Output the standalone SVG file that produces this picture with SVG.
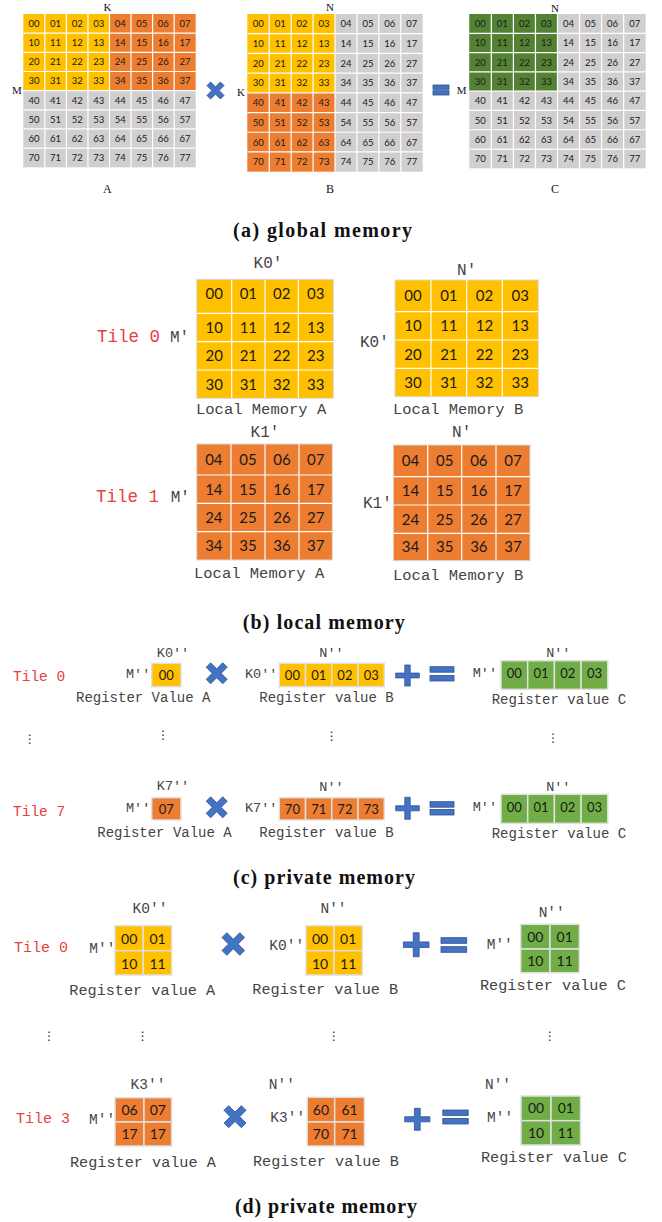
<svg xmlns="http://www.w3.org/2000/svg" xmlns:xlink="http://www.w3.org/1999/xlink" width="662" height="1222" viewBox="0 0 662 1222">
<defs>
<style>
.y{fill:#FFC000}.o{fill:#ED7D31}.g{fill:#D0CECE}.dg{fill:#548235}.gr{fill:#70AD47}
.cell{stroke:#E0E0E0;stroke-width:1.5}
.gl{stroke:#FFFFFF;stroke-width:1.2;fill:none}
.gb{stroke:#DADADA;stroke-width:1;fill:none}
.n{font-family:Lato,"Open Sans","Liberation Sans",sans-serif;fill:#1a1a1a;text-anchor:middle}
.na{font-size:9.5px}.nb{font-size:15px}.nc{font-size:13px}.nd{font-size:14px}
.t{font-family:"Liberation Serif","Times New Roman",serif;fill:#111}
.m{font-family:"Liberation Mono","Courier New",monospace;fill:#444}
.red{fill:#E8413C}
.mid{text-anchor:middle}
.cap{font-family:"Liberation Serif","Times New Roman",serif;font-weight:bold;font-size:20px;fill:#111;text-anchor:middle}
.op{fill:#4472C4;stroke:#2F528F;stroke-width:0.8}
.dots{font-family:"DejaVu Sans",sans-serif;font-size:12px;fill:#222;text-anchor:middle}
</style>
<path id="mul" d="M0.516,-0.898 L0.898,-0.516 L0.382,0 L0.898,0.516 L0.516,0.898 L0,0.382 L-0.516,0.898 L-0.898,0.516 L-0.382,0 L-0.898,-0.516 L-0.516,-0.898 L0,-0.382 Z" vector-effect="non-scaling-stroke"/>
<path id="plus" d="M-0.23,-1 H0.23 V-0.23 H1 V0.23 H0.23 V1 H-0.23 V0.23 H-1 V-0.23 H-0.23 Z" vector-effect="non-scaling-stroke"/>
</defs>
<rect width="662" height="1222" fill="#FFFFFF"/>

<!-- ============ (a) global memory ============ -->
<g id="globalA" transform="translate(23.3,14)">
<rect class="g" x="0" y="76.64" width="172.4" height="76.64"/>
<rect class="y" x="0" y="0" width="86.2" height="76.64"/>
<rect class="o" x="86.2" y="0" width="86.2" height="76.64"/>
<path class="gl" d="M21.55,0V153.28M43.1,0V153.28M64.65,0V153.28M86.2,0V153.28M107.75,0V153.28M129.3,0V153.28M150.85,0V153.28M0,19.16H172.4M0,38.32H172.4M0,57.48H172.4M0,76.64H172.4M0,95.8H172.4M0,114.96H172.4M0,134.12H172.4"/>
<g class="n na">
<text y="12.98"><tspan x="10.78">00</tspan><tspan x="32.33">01</tspan><tspan x="53.88">02</tspan><tspan x="75.43">03</tspan><tspan x="96.98">04</tspan><tspan x="118.53">05</tspan><tspan x="140.08">06</tspan><tspan x="161.63">07</tspan></text>
<text y="32.14"><tspan x="10.78">10</tspan><tspan x="32.33">11</tspan><tspan x="53.88">12</tspan><tspan x="75.43">13</tspan><tspan x="96.98">14</tspan><tspan x="118.53">15</tspan><tspan x="140.08">16</tspan><tspan x="161.63">17</tspan></text>
<text y="51.3"><tspan x="10.78">20</tspan><tspan x="32.33">21</tspan><tspan x="53.88">22</tspan><tspan x="75.43">23</tspan><tspan x="96.98">24</tspan><tspan x="118.53">25</tspan><tspan x="140.08">26</tspan><tspan x="161.63">27</tspan></text>
<text y="70.46"><tspan x="10.78">30</tspan><tspan x="32.33">31</tspan><tspan x="53.88">32</tspan><tspan x="75.43">33</tspan><tspan x="96.98">34</tspan><tspan x="118.53">35</tspan><tspan x="140.08">36</tspan><tspan x="161.63">37</tspan></text>
<text y="89.62"><tspan x="10.78">40</tspan><tspan x="32.33">41</tspan><tspan x="53.88">42</tspan><tspan x="75.43">43</tspan><tspan x="96.98">44</tspan><tspan x="118.53">45</tspan><tspan x="140.08">46</tspan><tspan x="161.63">47</tspan></text>
<text y="108.78"><tspan x="10.78">50</tspan><tspan x="32.33">51</tspan><tspan x="53.88">52</tspan><tspan x="75.43">53</tspan><tspan x="96.98">54</tspan><tspan x="118.53">55</tspan><tspan x="140.08">56</tspan><tspan x="161.63">57</tspan></text>
<text y="127.94"><tspan x="10.78">60</tspan><tspan x="32.33">61</tspan><tspan x="53.88">62</tspan><tspan x="75.43">63</tspan><tspan x="96.98">64</tspan><tspan x="118.53">65</tspan><tspan x="140.08">66</tspan><tspan x="161.63">67</tspan></text>
<text y="147.1"><tspan x="10.78">70</tspan><tspan x="32.33">71</tspan><tspan x="53.88">72</tspan><tspan x="75.43">73</tspan><tspan x="96.98">74</tspan><tspan x="118.53">75</tspan><tspan x="140.08">76</tspan><tspan x="161.63">77</tspan></text>
</g>
</g>
<g id="globalA-labels" class="t">
<text x="107.5" y="10.5" font-size="11" text-anchor="middle">K</text>
<text x="17" y="94" font-size="11" text-anchor="middle">M</text>
<text x="107.3" y="193.3" font-size="12" text-anchor="middle">A</text>
</g>

<g id="globalB" transform="translate(247.3,14)">
<rect class="y" x="0" y="0" width="87.72" height="78.84"/>
<rect class="o" x="0" y="78.84" width="87.72" height="78.84"/>
<rect class="g" x="87.72" y="0" width="87.68" height="157.68"/>
<path class="gl" d="M21.93,0V157.68M43.86,0V157.68M65.79,0V157.68M87.72,0V157.68M109.65,0V157.68M131.58,0V157.68M153.51,0V157.68M0,19.71H175.4M0,39.42H175.4M0,59.13H175.4M0,78.84H175.4M0,98.55H175.4M0,118.26H175.4M0,137.97H175.4"/>
<g class="n na">
<text y="13.26"><tspan x="10.97">00</tspan><tspan x="32.9">01</tspan><tspan x="54.83">02</tspan><tspan x="76.76">03</tspan><tspan x="98.69">04</tspan><tspan x="120.62">05</tspan><tspan x="142.55">06</tspan><tspan x="164.48">07</tspan></text>
<text y="32.97"><tspan x="10.97">10</tspan><tspan x="32.9">11</tspan><tspan x="54.83">12</tspan><tspan x="76.76">13</tspan><tspan x="98.69">14</tspan><tspan x="120.62">15</tspan><tspan x="142.55">16</tspan><tspan x="164.48">17</tspan></text>
<text y="52.68"><tspan x="10.97">20</tspan><tspan x="32.9">21</tspan><tspan x="54.83">22</tspan><tspan x="76.76">23</tspan><tspan x="98.69">24</tspan><tspan x="120.62">25</tspan><tspan x="142.55">26</tspan><tspan x="164.48">27</tspan></text>
<text y="72.39"><tspan x="10.97">30</tspan><tspan x="32.9">31</tspan><tspan x="54.83">32</tspan><tspan x="76.76">33</tspan><tspan x="98.69">34</tspan><tspan x="120.62">35</tspan><tspan x="142.55">36</tspan><tspan x="164.48">37</tspan></text>
<text y="92.1"><tspan x="10.97">40</tspan><tspan x="32.9">41</tspan><tspan x="54.83">42</tspan><tspan x="76.76">43</tspan><tspan x="98.69">44</tspan><tspan x="120.62">45</tspan><tspan x="142.55">46</tspan><tspan x="164.48">47</tspan></text>
<text y="111.81"><tspan x="10.97">50</tspan><tspan x="32.9">51</tspan><tspan x="54.83">52</tspan><tspan x="76.76">53</tspan><tspan x="98.69">54</tspan><tspan x="120.62">55</tspan><tspan x="142.55">56</tspan><tspan x="164.48">57</tspan></text>
<text y="131.52"><tspan x="10.97">60</tspan><tspan x="32.9">61</tspan><tspan x="54.83">62</tspan><tspan x="76.76">63</tspan><tspan x="98.69">64</tspan><tspan x="120.62">65</tspan><tspan x="142.55">66</tspan><tspan x="164.48">67</tspan></text>
<text y="151.23"><tspan x="10.97">70</tspan><tspan x="32.9">71</tspan><tspan x="54.83">72</tspan><tspan x="76.76">73</tspan><tspan x="98.69">74</tspan><tspan x="120.62">75</tspan><tspan x="142.55">76</tspan><tspan x="164.48">77</tspan></text>
</g>
</g>
<g id="globalB-labels" class="t">
<text x="330" y="10.5" font-size="11" text-anchor="middle">N</text>
<text x="241" y="96" font-size="11" text-anchor="middle">K</text>
<text x="330" y="193.3" font-size="12" text-anchor="middle">B</text>
</g>

<g id="globalC" transform="translate(469.3,14)">
<rect class="g" x="0" y="0" width="176.4" height="154.32"/>
<rect class="dg" x="0" y="0" width="88.2" height="77.16"/>
<path class="gl" d="M22.05,0V154.32M44.1,0V154.32M66.15,0V154.32M88.2,0V154.32M110.25,0V154.32M132.3,0V154.32M154.35,0V154.32M0,19.29H176.4M0,38.58H176.4M0,57.87H176.4M0,77.16H176.4M0,96.45H176.4M0,115.74H176.4M0,135.03H176.4"/>
<g class="n na">
<text y="13.05"><tspan x="11.03">00</tspan><tspan x="33.08">01</tspan><tspan x="55.13">02</tspan><tspan x="77.18">03</tspan><tspan x="99.23">04</tspan><tspan x="121.28">05</tspan><tspan x="143.33">06</tspan><tspan x="165.38">07</tspan></text>
<text y="32.34"><tspan x="11.03">10</tspan><tspan x="33.08">11</tspan><tspan x="55.13">12</tspan><tspan x="77.18">13</tspan><tspan x="99.23">14</tspan><tspan x="121.28">15</tspan><tspan x="143.33">16</tspan><tspan x="165.38">17</tspan></text>
<text y="51.63"><tspan x="11.03">20</tspan><tspan x="33.08">21</tspan><tspan x="55.13">22</tspan><tspan x="77.18">23</tspan><tspan x="99.23">24</tspan><tspan x="121.28">25</tspan><tspan x="143.33">26</tspan><tspan x="165.38">27</tspan></text>
<text y="70.92"><tspan x="11.03">30</tspan><tspan x="33.08">31</tspan><tspan x="55.13">32</tspan><tspan x="77.18">33</tspan><tspan x="99.23">34</tspan><tspan x="121.28">35</tspan><tspan x="143.33">36</tspan><tspan x="165.38">37</tspan></text>
<text y="90.21"><tspan x="11.03">40</tspan><tspan x="33.08">41</tspan><tspan x="55.13">42</tspan><tspan x="77.18">43</tspan><tspan x="99.23">44</tspan><tspan x="121.28">45</tspan><tspan x="143.33">46</tspan><tspan x="165.38">47</tspan></text>
<text y="109.5"><tspan x="11.03">50</tspan><tspan x="33.08">51</tspan><tspan x="55.13">52</tspan><tspan x="77.18">53</tspan><tspan x="99.23">54</tspan><tspan x="121.28">55</tspan><tspan x="143.33">56</tspan><tspan x="165.38">57</tspan></text>
<text y="128.79"><tspan x="11.03">60</tspan><tspan x="33.08">61</tspan><tspan x="55.13">62</tspan><tspan x="77.18">63</tspan><tspan x="99.23">64</tspan><tspan x="121.28">65</tspan><tspan x="143.33">66</tspan><tspan x="165.38">67</tspan></text>
<text y="148.08"><tspan x="11.03">70</tspan><tspan x="33.08">71</tspan><tspan x="55.13">72</tspan><tspan x="77.18">73</tspan><tspan x="99.23">74</tspan><tspan x="121.28">75</tspan><tspan x="143.33">76</tspan><tspan x="165.38">77</tspan></text>
</g>
</g>
<g id="globalC-labels" class="t">
<text x="555" y="12" font-size="11" text-anchor="middle">N</text>
<text x="461.7" y="94" font-size="11" text-anchor="middle">M</text>
<text x="555" y="193.3" font-size="12" text-anchor="middle">C</text>
</g>

<g id="ops-a">
<use xlink:href="#mul" class="op" transform="translate(215.5,90.5) scale(9.5)"/>
<rect class="op" x="433" y="85" width="16" height="4.3"/>
<rect class="op" x="433" y="90.7" width="16" height="4.3"/>
</g>
<text id="cap-a" class="cap" x="322.5" y="237" textLength="179">(a) global memory</text>

<!-- ============ (b) local memory ============ -->
<g id="localA-t0">
<rect class="y" x="196.7" y="279.3" width="136.6" height="119"/>
<path class="gl" stroke-width="1.5" d="M231.7,279.3V398.3M265,279.3V398.3M298.3,279.3V398.3M196.7,313.3H333.3M196.7,341.7H333.3M196.7,370H333.3"/>
<rect class="gb" x="196.7" y="279.3" width="136.6" height="119"/>
<g class="n nb">
<text y="299.2"><tspan x="214.2">00</tspan><tspan x="248.35">01</tspan><tspan x="281.65">02</tspan><tspan x="315.8">03</tspan></text>
<text y="332.9"><tspan x="214.2">10</tspan><tspan x="248.35">11</tspan><tspan x="281.65">12</tspan><tspan x="315.8">13</tspan></text>
<text y="361.2"><tspan x="214.2">20</tspan><tspan x="248.35">21</tspan><tspan x="281.65">22</tspan><tspan x="315.8">23</tspan></text>
<text y="389.6"><tspan x="214.2">30</tspan><tspan x="248.35">31</tspan><tspan x="281.65">32</tspan><tspan x="315.8">33</tspan></text>
</g>
</g>
<g id="localB-t0">
<rect class="y" x="395" y="280" width="143.3" height="116.7"/>
<path class="gl" stroke-width="1.5" d="M431,280V396.7M466.7,280V396.7M502.3,280V396.7M395,311.7H538.3M395,340H538.3M395,368.3H538.3"/>
<rect class="gb" x="395" y="280" width="143.3" height="116.7"/>
<g class="n nb">
<text y="301.2"><tspan x="413">00</tspan><tspan x="448.85">01</tspan><tspan x="484.5">02</tspan><tspan x="520.3">03</tspan></text>
<text y="331.2"><tspan x="413">10</tspan><tspan x="448.85">11</tspan><tspan x="484.5">12</tspan><tspan x="520.3">13</tspan></text>
<text y="359.6"><tspan x="413">20</tspan><tspan x="448.85">21</tspan><tspan x="484.5">22</tspan><tspan x="520.3">23</tspan></text>
<text y="387.9"><tspan x="413">30</tspan><tspan x="448.85">31</tspan><tspan x="484.5">32</tspan><tspan x="520.3">33</tspan></text>
</g>
</g>
<g id="localA-t1">
<rect class="o" x="196.7" y="444" width="135.6" height="116"/>
<path class="gl" stroke-width="1.5" d="M231,444V560M265,444V560M299,444V560M196.7,475H332.3M196.7,503.3H332.3M196.7,531.7H332.3"/>
<rect class="gb" x="196.7" y="444" width="135.6" height="116"/>
<g class="n nb">
<text y="464.7"><tspan x="213.85">04</tspan><tspan x="248">05</tspan><tspan x="282">06</tspan><tspan x="315.65">07</tspan></text>
<text y="494.6"><tspan x="213.85">14</tspan><tspan x="248">15</tspan><tspan x="282">16</tspan><tspan x="315.65">17</tspan></text>
<text y="522.9"><tspan x="213.85">24</tspan><tspan x="248">25</tspan><tspan x="282">26</tspan><tspan x="315.65">27</tspan></text>
<text y="551.25"><tspan x="213.85">34</tspan><tspan x="248">35</tspan><tspan x="282">36</tspan><tspan x="315.65">37</tspan></text>
</g>
</g>
<g id="localB-t1">
<rect class="o" x="393.3" y="445" width="136.7" height="115.7"/>
<path class="gl" stroke-width="1.5" d="M427.7,445V560.7M461.7,445V560.7M496,445V560.7M393.3,476.7H530M393.3,505H530M393.3,533.3H530"/>
<rect class="gb" x="393.3" y="445" width="136.7" height="115.7"/>
<g class="n nb">
<text y="466.25"><tspan x="410.5">04</tspan><tspan x="444.7">05</tspan><tspan x="478.85">06</tspan><tspan x="513">07</tspan></text>
<text y="496.25"><tspan x="410.5">14</tspan><tspan x="444.7">15</tspan><tspan x="478.85">16</tspan><tspan x="513">17</tspan></text>
<text y="524.55"><tspan x="410.5">24</tspan><tspan x="444.7">25</tspan><tspan x="478.85">26</tspan><tspan x="513">27</tspan></text>
<text y="552.4"><tspan x="410.5">34</tspan><tspan x="444.7">35</tspan><tspan x="478.85">36</tspan><tspan x="513">37</tspan></text>
</g>
</g>
<g id="local-labels" class="m">
<text x="268" y="268" font-size="16" class="m mid">K0′</text>
<text x="466.7" y="275" font-size="16" class="m mid">N′</text>
<text x="97" y="341.7" font-size="17.5" class="m red">Tile 0</text>
<text x="170" y="341.7" font-size="16">M′</text>
<text x="360" y="347.3" font-size="16">K0′</text>
<text x="196" y="414" font-size="15.5">Local Memory A</text>
<text x="393" y="414" font-size="15.5">Local Memory B</text>
<text x="265" y="437" font-size="16" class="m mid">K1′</text>
<text x="461.7" y="437" font-size="16" class="m mid">N′</text>
<text x="96" y="502" font-size="17.5" class="m red">Tile 1</text>
<text x="170.7" y="502" font-size="16">M′</text>
<text x="363" y="508" font-size="16">K1′</text>
<text x="194" y="578" font-size="15.5">Local Memory A</text>
<text x="393" y="580" font-size="15.5">Local Memory B</text>
</g>
<text id="cap-b" class="cap" x="323.8" y="629" textLength="162">(b) local memory</text>

<!-- ============ (c) private memory ============ -->
<g id="regA-c0">
<rect class="y cell" x="151.7" y="663.3" width="29.3" height="23.4"/>
<text class="n nc" x="166.35" y="679.7">00</text>
</g>
<g id="regB-c0">
<rect class="y cell" x="279.3" y="663.3" width="26.25" height="23.4"/>
<rect class="y cell" x="305.55" y="663.3" width="26.25" height="23.4"/>
<rect class="y cell" x="331.8" y="663.3" width="26.25" height="23.4"/>
<rect class="y cell" x="358.05" y="663.3" width="26.25" height="23.4"/>
<text class="n nc" y="679.7"><tspan x="292.4">00</tspan><tspan x="318.7">01</tspan><tspan x="344.9">02</tspan><tspan x="371.2">03</tspan></text>
</g>
<g id="regC-c0">
<rect class="gr cell" x="501" y="660.7" width="26.7" height="28.6"/>
<rect class="gr cell" x="527.7" y="660.7" width="26.7" height="28.6"/>
<rect class="gr cell" x="554.4" y="660.7" width="26.7" height="28.6"/>
<rect class="gr cell" x="581.1" y="660.7" width="26.7" height="28.6"/>
<text class="n nc" y="678.2"><tspan x="514.35">00</tspan><tspan x="541.05">01</tspan><tspan x="567.75">02</tspan><tspan x="594.45">03</tspan></text>
</g>
<g id="regA-c7">
<rect class="o cell" x="151.7" y="797.7" width="29.3" height="22.3"/>
<text class="n nc" x="166.35" y="813.5">07</text>
</g>
<g id="regB-c7">
<rect class="o cell" x="279.3" y="797.7" width="26.25" height="22.3"/>
<rect class="o cell" x="305.55" y="797.7" width="26.25" height="22.3"/>
<rect class="o cell" x="331.8" y="797.7" width="26.25" height="22.3"/>
<rect class="o cell" x="358.05" y="797.7" width="26.25" height="22.3"/>
<text class="n nc" y="813.5"><tspan x="292.4">70</tspan><tspan x="318.7">71</tspan><tspan x="344.9">72</tspan><tspan x="371.2">73</tspan></text>
</g>
<g id="regC-c7">
<rect class="gr cell" x="501" y="794.3" width="26.7" height="29"/>
<rect class="gr cell" x="527.7" y="794.3" width="26.7" height="29"/>
<rect class="gr cell" x="554.4" y="794.3" width="26.7" height="29"/>
<rect class="gr cell" x="581.1" y="794.3" width="26.7" height="29"/>
<text class="n nc" y="812.2"><tspan x="514.35">00</tspan><tspan x="541.05">01</tspan><tspan x="567.75">02</tspan><tspan x="594.45">03</tspan></text>
</g>
<g id="ops-c">
<use xlink:href="#mul" class="op" transform="translate(216.7,673.3) scale(11.7)"/>
<use xlink:href="#plus" class="op" transform="translate(407.5,675.5) scale(11.8,10.5)"/>
<rect class="op" x="430" y="666.7" width="24" height="5.5"/>
<rect class="op" x="430" y="675.5" width="24" height="5.5"/>
<use xlink:href="#mul" class="op" transform="translate(216.7,807.3) scale(11.7)"/>
<use xlink:href="#plus" class="op" transform="translate(407.5,808.3) scale(11.8,11)"/>
<rect class="op" x="430" y="801.7" width="24" height="5.5"/>
<rect class="op" x="430" y="809.5" width="24" height="5.5"/>
</g>
<g id="private-c-labels" class="m" font-size="13.5">
<text x="13" y="680.5" font-size="14.5" class="m red">Tile 0</text>
<text x="173" y="657.3" class="m mid">K0′′</text>
<text x="126" y="678.3">M′′</text>
<text x="76" y="702" font-size="14">Register Value A</text>
<text x="245" y="678.3">K0′′</text>
<text x="331.5" y="657.3" class="m mid">N′′</text>
<text x="259.3" y="702" font-size="14">Register value B</text>
<text x="472.7" y="677.3">M′′</text>
<text x="558.3" y="656.5" class="m mid">N′′</text>
<text x="491.7" y="704" font-size="14">Register value C</text>
<text x="13" y="816" font-size="14.5" class="m red">Tile 7</text>
<text x="173" y="790" class="m mid">K7′′</text>
<text x="126" y="812.3">M′′</text>
<text x="245" y="812">K7′′</text>
<text x="331.5" y="790.5" class="m mid">N′′</text>
<text x="97.3" y="837" font-size="14">Register Value A</text>
<text x="259.3" y="837" font-size="14">Register value B</text>
<text x="472.7" y="810.7">M′′</text>
<text x="558.3" y="790.5" class="m mid">N′′</text>
<text x="491.7" y="838" font-size="14">Register value C</text>
</g>
<g id="dots-c" class="dots">
<text x="30" y="742.5">⋮</text>
<text x="163.3" y="738.5">⋮</text>
<text x="331.7" y="739.5">⋮</text>
<text x="553.3" y="742">⋮</text>
</g>
<text id="cap-c" class="cap" x="324" y="884" textLength="182">(c) private memory</text>

<!-- ============ (d) private memory ============ -->
<g id="regA-d0">
<rect class="y cell" x="115" y="925.7" width="28.3" height="25"/>
<rect class="y cell" x="143.3" y="925.7" width="28.4" height="25"/>
<rect class="y cell" x="115" y="950.7" width="28.3" height="24.3"/>
<rect class="y cell" x="143.3" y="950.7" width="28.4" height="24.3"/>
<text class="n nd" y="943.7"><tspan x="129.15">00</tspan><tspan x="157.5">01</tspan></text>
<text class="n nd" y="968.7"><tspan x="129.15">10</tspan><tspan x="157.5">11</tspan></text>
</g>
<g id="regB-d0">
<rect class="y cell" x="306" y="925.7" width="28" height="25"/>
<rect class="y cell" x="334" y="925.7" width="28.3" height="25"/>
<rect class="y cell" x="306" y="950.7" width="28" height="24.3"/>
<rect class="y cell" x="334" y="950.7" width="28.3" height="24.3"/>
<text class="n nd" y="943.7"><tspan x="320">00</tspan><tspan x="348.15">01</tspan></text>
<text class="n nd" y="968.7"><tspan x="320">10</tspan><tspan x="348.15">11</tspan></text>
</g>
<g id="regC-d0">
<rect class="gr cell" x="520.7" y="924.3" width="29.3" height="24.7"/>
<rect class="gr cell" x="550" y="924.3" width="29.3" height="24.7"/>
<rect class="gr cell" x="520.7" y="949" width="29.3" height="23.7"/>
<rect class="gr cell" x="550" y="949" width="29.3" height="23.7"/>
<text class="n nd" y="941.7"><tspan x="535.35">00</tspan><tspan x="564.65">01</tspan></text>
<text class="n nd" y="965.9"><tspan x="535.35">10</tspan><tspan x="564.65">11</tspan></text>
</g>
<g id="regA-d3">
<rect class="o cell" x="115" y="1097.7" width="29" height="24.3"/>
<rect class="o cell" x="144" y="1097.7" width="27.6" height="24.3"/>
<rect class="o cell" x="115" y="1122" width="29" height="24"/>
<rect class="o cell" x="144" y="1122" width="27.6" height="24"/>
<text class="n nd" y="1114.9"><tspan x="129.5">06</tspan><tspan x="157.8">07</tspan></text>
<text class="n nd" y="1139"><tspan x="129.5">17</tspan><tspan x="157.8">17</tspan></text>
</g>
<g id="regB-d3">
<rect class="o cell" x="307.2" y="1097.3" width="27.5" height="24.7"/>
<rect class="o cell" x="334.7" y="1097.3" width="29.7" height="24.7"/>
<rect class="o cell" x="307.2" y="1122" width="27.5" height="24"/>
<rect class="o cell" x="334.7" y="1122" width="29.7" height="24"/>
<text class="n nd" y="1114.7"><tspan x="320.95">60</tspan><tspan x="349.55">61</tspan></text>
<text class="n nd" y="1139"><tspan x="320.95">70</tspan><tspan x="349.55">71</tspan></text>
</g>
<g id="regC-d3">
<rect class="gr cell" x="521" y="1096" width="30" height="24.7"/>
<rect class="gr cell" x="551" y="1096" width="29.5" height="24.7"/>
<rect class="gr cell" x="521" y="1120.7" width="30" height="24.3"/>
<rect class="gr cell" x="551" y="1120.7" width="29.5" height="24.3"/>
<text class="n nd" y="1113.4"><tspan x="536">00</tspan><tspan x="565.75">01</tspan></text>
<text class="n nd" y="1137.9"><tspan x="536">10</tspan><tspan x="565.75">11</tspan></text>
</g>
<g id="ops-d">
<use xlink:href="#mul" class="op" transform="translate(233.3,944) scale(12.6)"/>
<use xlink:href="#plus" class="op" transform="translate(416.2,944.7) scale(12.8,12)"/>
<rect class="op" x="441" y="937.7" width="25.7" height="5.6"/>
<rect class="op" x="441" y="946.7" width="25.7" height="5.6"/>
<use xlink:href="#mul" class="op" transform="translate(235,1116.7) scale(12.3)"/>
<use xlink:href="#plus" class="op" transform="translate(417.3,1119.3) scale(12.6,11)"/>
<rect class="op" x="442.8" y="1110" width="25.4" height="5.5"/>
<rect class="op" x="442.8" y="1118.5" width="25.4" height="5.5"/>
</g>
<g id="private-d-labels" class="m" font-size="14.5">
<text x="150" y="913.3" class="m mid">K0′′</text>
<text x="14" y="952.3" font-size="15" class="m red">Tile 0</text>
<text x="89.3" y="953">M′′</text>
<text x="269.3" y="949.5">K0′′</text>
<text x="333.5" y="913" class="m mid">N′′</text>
<text x="69.3" y="994.5" font-size="15.2">Register value A</text>
<text x="252.3" y="993.5" font-size="15.2">Register value B</text>
<text x="486.7" y="949">M′′</text>
<text x="551.7" y="916.5" class="m mid">N′′</text>
<text x="480" y="990" font-size="15.2">Register value C</text>
<text x="148" y="1089" class="m mid">K3′′</text>
<text x="16" y="1123" font-size="15" class="m red">Tile 3</text>
<text x="89" y="1124">M′′</text>
<text x="281.8" y="1089" class="m mid">N′′</text>
<text x="270.3" y="1121.5">K3′′</text>
<text x="498" y="1089" class="m mid">N′′</text>
<text x="487" y="1121.5">M′′</text>
<text x="70" y="1167" font-size="15.2">Register value A</text>
<text x="253" y="1165.5" font-size="15.2">Register value B</text>
<text x="481" y="1161.5" font-size="15.2">Register value C</text>
</g>
<g id="dots-d" class="dots">
<text x="49.3" y="1040">⋮</text>
<text x="142.7" y="1040">⋮</text>
<text x="334" y="1040">⋮</text>
<text x="550" y="1040">⋮</text>
</g>
<text id="cap-d" class="cap" x="326" y="1213" textLength="182">(d) private memory</text>
</svg>
